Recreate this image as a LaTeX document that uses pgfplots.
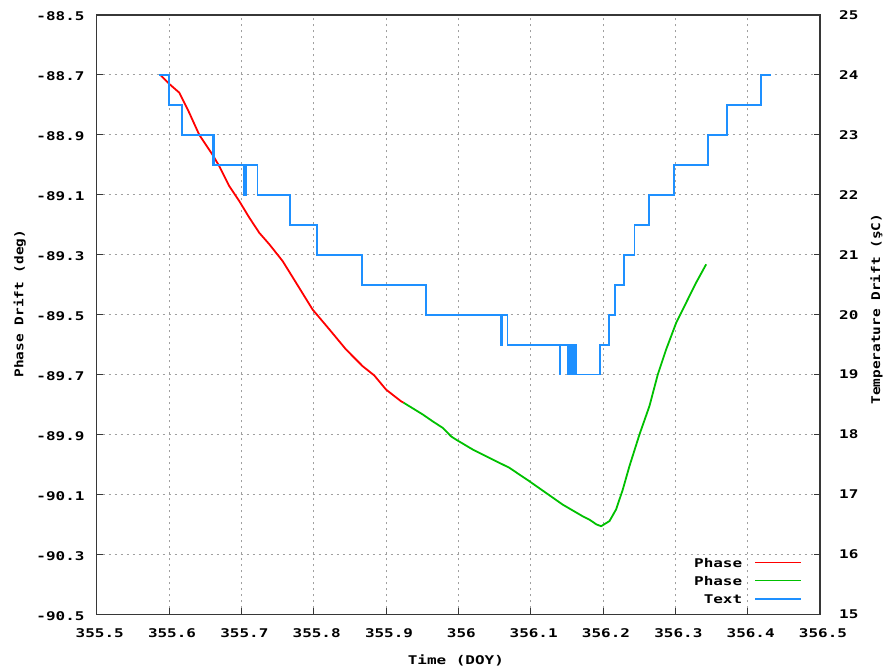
\documentclass[border=0pt]{standalone}
\usepackage{fontspec}
\setmainfont{DejaVu Sans Mono}[FakeStretch=1.33]
\newfontfamily\rotfont{DejaVu Sans Mono}[FakeStretch=1.2]
\usepackage{pgfplots}
\pgfplotsset{compat=1.18}

\definecolor{phasered}{RGB}{255,0,0}
\definecolor{phasegreen}{RGB}{0,192,0}
\definecolor{tempblue}{RGB}{30,144,255}
\definecolor{gridgray}{RGB}{160,160,160}
\definecolor{framegray}{RGB}{55,55,55}

\newcommand\tickfont{\fontsize{12bp}{14bp}\selectfont\bfseries}
\newcommand\rotlabelfont{\rotfont\fontsize{12bp}{14bp}\selectfont\bfseries}

% phase drift, first segment
\pgfplotstableread{
x y
355.5888 -88.702
355.6003 -88.730
355.6141 -88.759
355.6210 -88.792
355.6279 -88.826
355.6418 -88.900
355.6598 -88.965
355.6694 -89.004
355.6833 -89.071
355.6971 -89.121
355.7109 -89.176
355.7248 -89.227
355.7386 -89.265
355.7570 -89.321
355.7755 -89.393
355.7985 -89.483
355.8216 -89.549
355.8446 -89.616
355.8677 -89.672
355.8838 -89.703
355.9000 -89.750
355.9207 -89.789
355.9244 -89.794
}\phaseA

% phase drift, second segment
\pgfplotstableread{
x y
355.9244 -89.794
355.9507 -89.833
355.9645 -89.856
355.9785 -89.878
355.9899 -89.906
355.9968 -89.917
356.0198 -89.950
356.0429 -89.978
356.0705 -90.011
356.0982 -90.056
356.1213 -90.095
356.1443 -90.134
356.1720 -90.173
356.1812 -90.184
356.1909 -90.200
356.1974 -90.206
356.2089 -90.189
356.2181 -90.150
356.2273 -90.084
356.2365 -90.006
356.2504 -89.900
356.2642 -89.805
356.2757 -89.700
356.2873 -89.616
356.3012 -89.527
356.3195 -89.438
356.3288 -89.393
356.3426 -89.332
}\phaseB

% temperature readings (value holds until the next time stamp)
\pgfplotstableread{
x y
355.5864 24.0
355.5997 23.5
355.6178 23.0
355.6602 22.5
355.6610 23.0
355.6620 22.5
355.7030 22.0
355.7040 22.5
355.7055 22.0
355.7072 22.5
355.7224 22.0
355.7672 21.5
355.8046 21.0
355.8668 20.5
355.9557 20.0
356.0591 19.5
356.0610 20.0
356.0680 19.5
356.1397 19.0
356.1410 19.5
356.1512 19.0
356.1525 19.5
356.1540 19.0
356.1560 19.5
356.1585 19.0
356.1595 19.5
356.1628 19.0
356.1960 19.5
356.2079 20.0
356.2167 20.5
356.2286 21.0
356.2434 21.5
356.2632 22.0
356.2975 22.5
356.2980 22.0
356.2988 22.5
356.3448 23.0
356.3711 23.5
356.4187 24.0
356.4329 24.0
}\temp

\pgfplotsset{
  base/.style={
    scale only axis, width=723.3bp, height=599.3bp,
    at={(0,0)}, anchor=south west,
    xmin=355.5, xmax=356.5,
    axis line style={framegray, line width=1.5bp},
    tick style={framegray, line width=1bp},
    major tick length=6bp, tick align=inside,
    ticklabel style={font=\tickfont, inner sep=0pt},
    /pgf/number format/assume math mode=true,
    /pgf/number format/fixed, /pgf/number format/precision=1,
  },
}

\begin{document}
\begin{tikzpicture}
\begin{axis}[base,
  ymin=-90.5, ymax=-88.5,
  xtick={355.5,355.6,355.7,355.8,355.9,356,356.1,356.2,356.3,356.4,356.5},
  ytick={-90.5,-90.3,-90.1,-89.9,-89.7,-89.5,-89.3,-89.1,-88.9,-88.7,-88.5},
  xtick pos=left, ytick pos=left,
  xticklabel style={anchor=north, yshift=-14bp, xshift=3bp},
  yticklabel style={anchor=east, xshift=-12bp, yshift=-1.5bp},
  grid=major,
  grid style={gridgray, line width=1bp, dash pattern=on 2bp off 4bp},
  xlabel={Time (DOY)},
  ylabel={Phase Drift (deg)},
  every axis x label/.style={at={(axis description cs:0.49654,-0.0846)}, anchor=base, font=\tickfont},
  every axis y label/.style={at={(axis description cs:-0.10148,0.51835)}, rotate=90, anchor=base, font=\rotlabelfont},
]
\addplot[phasered, line width=1.8bp, line join=round] table[x=x, y=y] {\phaseA};
\addplot[phasegreen, line width=1.8bp, line join=round] table[x=x, y=y] {\phaseB};
\end{axis}

\begin{axis}[base,
  ymin=15, ymax=25,
  ytick={15,16,17,18,19,20,21,22,23,24,25},
  axis x line=none, axis y line*=right,
  yticklabel style={anchor=west, xshift=19bp},
  ylabel={Temperature Drift (şC)},
  every axis y label/.style={at={(axis description cs:1.08295,0.50934)}, rotate=90, anchor=base, font=\rotlabelfont},
  legend style={draw=none, fill=none, font=\tickfont, inner sep=0pt, outer sep=0pt,
    at={(axis description cs:1,0)}, anchor=south east, xshift=-18bp, yshift=11bp,
    nodes={inner sep=0pt, text height=9bp, text depth=0bp},
    row sep=9bp, column sep=12bp},
  legend plot pos=right, legend cell align=right,
  legend image code/.code={\draw[#1] (0bp,0bp) -- (46bp,0bp);},
]
\addlegendimage{phasered, line width=1.2bp}
\addlegendentry{Phase}
\addlegendimage{phasegreen, line width=1.2bp}
\addlegendentry{Phase}
\addplot[tempblue, line width=1.8bp, const plot] table[x=x, y=y] {\temp};
\addlegendentry{Text}
\end{axis}
\pgfresetboundingbox
\useasboundingbox (-96.7bp,-56.7bp) rectangle (790.3bp,614.3bp);
\end{tikzpicture}
\end{document}
